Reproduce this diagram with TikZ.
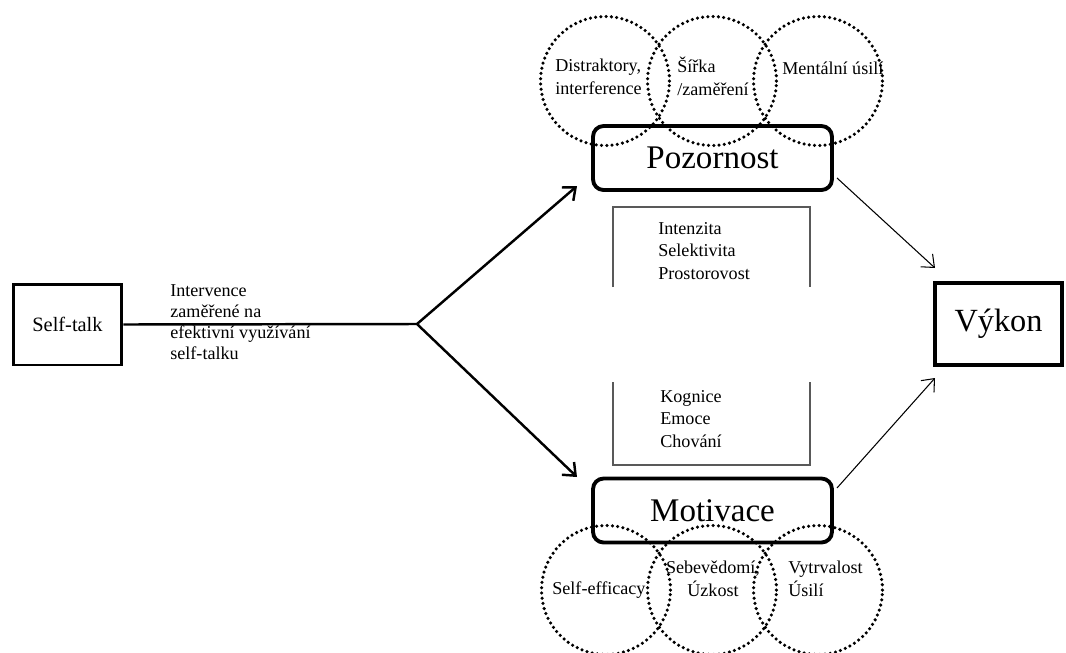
\documentclass[tikz,border=0pt]{standalone}
\usepackage{fontspec}
\setmainfont{LiberationSerif}[Extension=.ttf,UprightFont=*-Regular,BoldFont=*-Bold]
\usetikzlibrary{arrows.meta}
\begin{document}
\begin{tikzpicture}[x=0.02cm,y=-0.02cm,
  mainbox/.style={draw,line width=1.7pt,inner sep=0pt},
  roundbox/.style={draw,line width=2.2pt,rounded corners=6pt,inner sep=0pt,minimum width=4.78cm,minimum height=1.28cm,font=\fontsize{18.8}{22}\selectfont},
  dotcircle/.style={circle,draw,line width=2pt,dash pattern=on 0pt off 3pt,line cap=round,minimum size=2.58cm,inner sep=0pt},
  smalltext/.style={font=\fontsize{10.3}{13}\selectfont,inner sep=0pt,align=left},
  bigarrow/.style={line width=1.4pt,-{Straight Barb[length=6pt,width=10pt,line width=1.4pt]}},
  thinarrow/.style={line width=0.6pt,-{Straight Barb[length=6pt,width=10pt,line width=0.6pt]}},
  bracket/.style={draw=black!65,line width=0.7pt}]
\useasboundingbox (0,0) rectangle (1066,653);
% main boxes
\node[mainbox,minimum width=2.18cm,minimum height=1.62cm,font=\fontsize{11.6}{14}\selectfont] (self) at (67.5,324.5) {Self-talk};
\node[roundbox] (poz) at (712.5,158) {Pozornost};
\node[roundbox] (mot) at (712.5,510.5) {Motivace};
\node[mainbox,line width=2pt,minimum width=2.54cm,minimum height=1.64cm,font=\fontsize{18.4}{22}\selectfont] (vyk) at (998.5,324) {Výkon};
% dotted circles
\node[dotcircle] (c1) at (605,81) {};
\node[dotcircle] (c2) at (712,81) {};
\node[dotcircle] (c3) at (818,81) {};
\node[dotcircle] (c4) at (606,590) {};
\node[dotcircle] (c5) at (712,590) {};
\node[dotcircle] (c6) at (818,590) {};
% circle texts
\node[smalltext,anchor=west] (t1) at (555,76.5) {Distraktory,\\interference};
\node[smalltext,anchor=west] (t2) at (677,76.5) {Šířka\\/zaměření};
\node[smalltext,anchor=west] (t3) at (782,68) {Mentální úsilí};
\node[smalltext,anchor=west] (t4) at (552,590) {Self-efficacy};
\node[smalltext,align=center] (t5) at (713,578.5) {Sebevědomí,\\Úzkost};
\node[smalltext,anchor=west] (t6) at (788,578.5) {Vytrvalost\\Úsilí};
% intervention label
\node[smalltext,anchor=west,font=\fontsize{10.3}{11.9}\selectfont] (lab) at (170,322) {Intervence\\zaměřené na\\efektivní využívání\\self-talku};
% lists
\draw[bracket] (613,287) -- (613,207) -- (810,207) -- (810,287);
\draw[bracket] (613,382) -- (613,465) -- (810,465) -- (810,382);
\node[smalltext,anchor=west] (l1) at (658,251) {Intenzita\\Selektivita\\Prostorovost};
\node[smalltext,anchor=west] (l2) at (660,419) {Kognice\\Emoce\\Chování};
% connectors
\coordinate (split) at (417,324);
\coordinate (pozin) at (577,186);
\coordinate (motin) at (577,477);
\coordinate (pozout) at (837,178);
\coordinate (motout) at (837,488);
\coordinate (vykin1) at (935,268);
\coordinate (vykin2) at (935,378);
\draw[line width=1.4pt] (self.east) -- (split);
\draw[bigarrow] (split) -- (pozin);
\draw[bigarrow] (split) -- (motin);
\draw[thinarrow] (pozout) -- (vykin1);
\draw[thinarrow] (motout) -- (vykin2);
\end{tikzpicture}
\end{document}
